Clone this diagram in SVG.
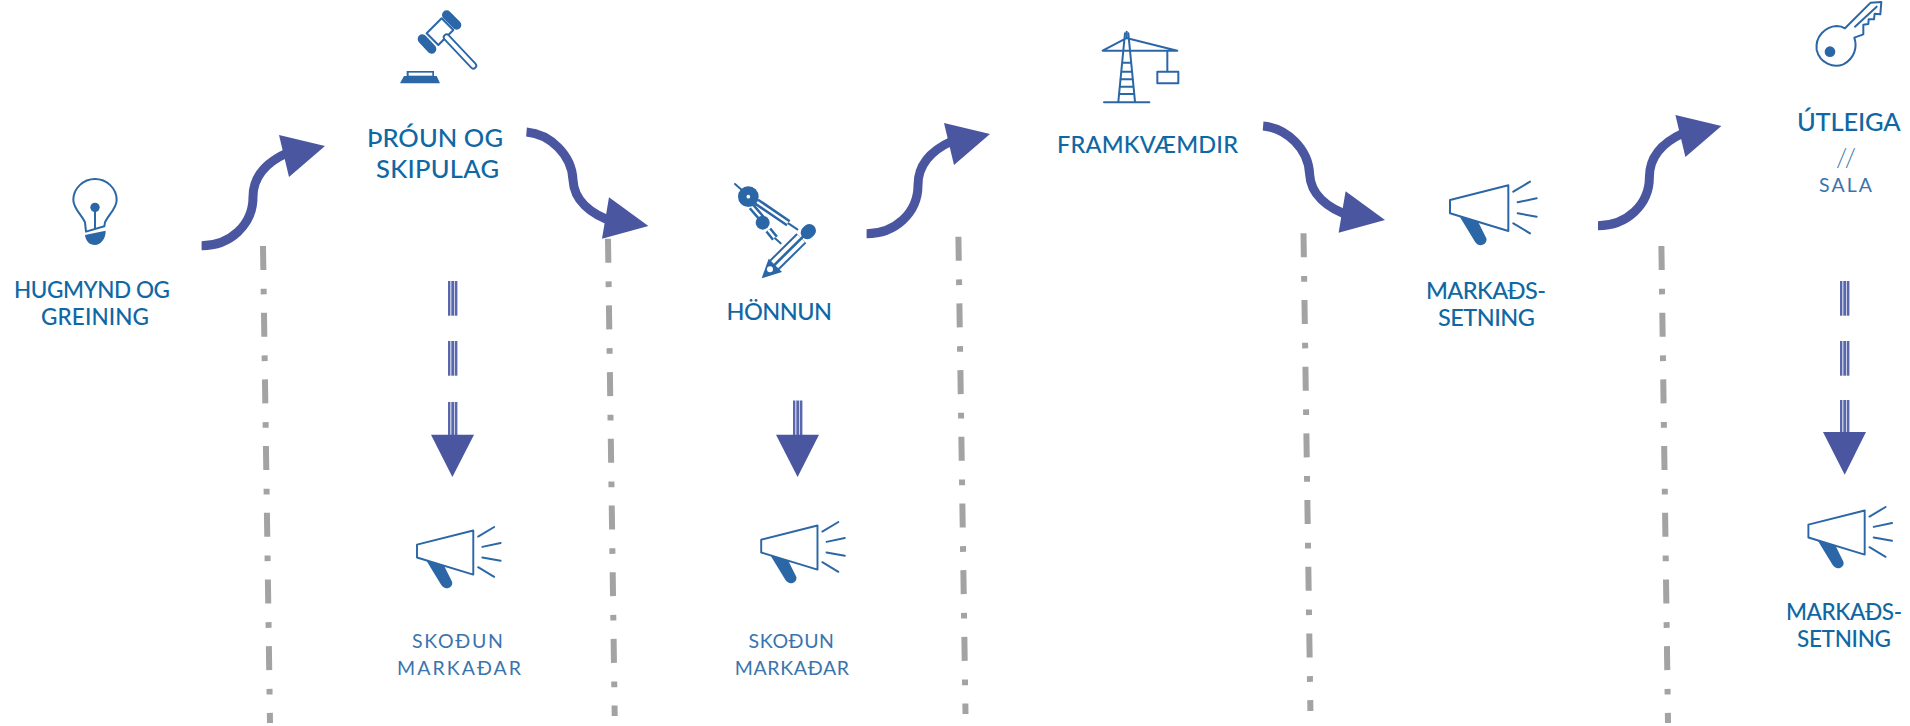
<svg xmlns="http://www.w3.org/2000/svg" xmlns:xlink="http://www.w3.org/1999/xlink" width="1910" height="726" viewBox="0 0 1910 726">
<style>
.t{font-family:Lato,"Noto Sans","Liberation Sans",sans-serif;font-weight:500;font-size:23.5px;fill:#0f68a3}
.s{font-size:22.5px}
.b{font-size:25.5px}
.l{font-family:Lato,"Open Sans","Liberation Sans",sans-serif;font-weight:400;font-size:19.5px;fill:#3a74ad}
.sl{font-size:26px;font-weight:300}
.ol{fill:none;stroke:#2b67a6;stroke-width:6;stroke-linecap:round;stroke-linejoin:round}
.fl{fill:#2b67a6}
.curve{fill:none;stroke:#4a569f;stroke-width:9}
.head{fill:#4a569f}
.div{fill:none;stroke:#a3a3a3;stroke-width:6;stroke-dasharray:24 18.7 5.7 18.3}
.tr{fill:#5b67ad}
</style>
<defs>
<g id="mega" transform="scale(.3333)">
<path class="ol" d="M60 90L235 46V183L60 130Z"/>
<path class="fl" d="M88 138L145 157L169 205C174 222 148 236 135 215Z"/>
<path class="ol" d="M250 65L300 35M263 97L320 85M263 130L320 140M250 160L300 190"/>
</g>
<g id="up"><path class="curve" d="M201.600 245.700C230 245.700 253 225 253 197C253 178 265 163 287 153"/><path class="head" d="M279 135L325 146L289 177Z"/></g>
<g id="down"><path class="curve" d="M526.500 132C550 134 572 155 573 180C574 200 590 214 614 222"/><path class="head" d="M609 197.300L648.400 226L602 238.700Z"/></g>
<g id="tri"><rect x="0" width="2.400" height="34.700" class="tr"/><rect x="3.300" width="3" height="34.700" class="tr"/><rect x="7" width="2.400" height="34.700" class="tr"/></g>
</defs>
<rect width="1910" height="726" fill="#fff"/>
<g id="connectors">
<use xlink:href="#up" href="#up"/>
<use href="#down"/>
<use href="#up" transform="translate(665,-12)"/>
<use href="#down" transform="translate(736.6,-6)"/>
<use href="#up" transform="translate(1396.4,-20)"/>
<use href="#tri" x="448" y="281"/><use href="#tri" x="448" y="341"/><use href="#tri" x="448" y="402"/>
<path class="head" d="M431 434.700H474L452.400 477Z"/>
<use href="#tri" x="793" y="400.500"/>
<path class="head" d="M776 434.700H819L797.600 477Z"/>
<use href="#tri" x="1840" y="281"/><use href="#tri" x="1840" y="341"/><use href="#tri" x="1840" y="400"/>
<path class="head" d="M1823 432H1866L1844.700 474.700Z"/>
</g>
<g id="dividers">
<path class="div" d="M263 246L270 723"/>
<path class="div" d="M608 238.700L614.700 716"/>
<path class="div" d="M958.400 236.700L965.500 714"/>
<path class="div" d="M1303.500 233.300L1310.400 711"/>
<path class="div" d="M1661.400 246L1668 723"/>
</g>
<g id="node-hugmynd">
<g transform="translate(50,165) scale(.3333)">
<path class="ol" d="M108 200L105 172C95 150 70 130 70 105C70 70 100 42 135 42C170 42 200 70 200 105C200 130 175 150 165 172L163 184Z"/>
<circle class="fl" cx="135" cy="127" r="14"/>
<path class="ol" d="M135 127V190"/>
<path class="fl" d="M105 210L167 197C168 222 150 240 135 240C118 240 107 228 105 210Z"/>
</g>
<text class="t s" x="14" y="298" textLength="156">HUGMYND OG</text>
<text class="t s" x="41" y="325" textLength="108">GREINING</text>
</g>
<g id="node-throun">
<g transform="translate(390,0) scale(.3333)">
<path class="ol" d="M155 55L110 100L145 135L190 90Z" fill="#fff"/>
<path d="M170 45L200 75M97 117L125 147" fill="none" stroke="#2b67a6" stroke-width="28" stroke-linecap="round"/>
<path d="M170 112L250 197" fill="none" stroke="#2b67a6" stroke-width="23" stroke-linecap="round"/>
<path d="M170 112L250 197" fill="none" stroke="#fff" stroke-width="12" stroke-linecap="round"/>
<path class="fl" d="M30 250H150L140 228H132V213H50V228H42Z"/>
<rect x="56" y="218" width="71" height="9" fill="#fff"/>
</g>
<text class="t b" x="367" y="146.700" textLength="136">ÞRÓUN OG</text>
<text class="t b" x="376" y="177.700" textLength="123">SKIPULAG</text>
</g>
<g id="node-honnun">
<g transform="translate(720,170) scale(.3333)">
<path class="ol" d="M45 42L68 62"/>
<path d="M110 95L205 160M95 110L125 145M145 180L165 205" fill="none" stroke="#2b67a6" stroke-width="22"/>
<path d="M110 95L205 160M95 110L125 145M145 180L165 205" fill="none" stroke="#fff" stroke-width="7"/>
<path class="ol" d="M205 160L232 178M165 205L182 220"/>
<circle class="fl" cx="85" cy="80" r="31"/><circle cx="85" cy="80" r="5.500" fill="#fff"/>
<circle class="fl" cx="128" cy="158" r="21"/>
<path d="M268 182L262 188" fill="none" stroke="#2b67a6" stroke-width="40" stroke-linecap="round"/>
<path d="M244 205L163 285" fill="none" stroke="#2b67a6" stroke-width="42"/>
<path d="M244 205L163 285" fill="none" stroke="#fff" stroke-width="30"/>
<path d="M250 199L150 298" fill="none" stroke="#2b67a6" stroke-width="8"/>
<path class="fl" d="M125 325L146 266L186 306Z"/>
<circle cx="150" cy="298" r="9" fill="#fff"/>
</g>
<text class="t" x="726.500" y="320" textLength="105.500">HÖNNUN</text>
</g>
<g id="node-framkvaemdir">
<g transform="translate(1090,20) scale(.3333)">
<path class="ol" d="M38 92H262M38 92L108 55M112 55L262 92M105 40L85 245M115 40L135 245M42 247H178M97 128H123M94 155H126M91 178H129M89 200H131M87 222H133M232 92V153"/>
<path class="ol" d="M110 35V55" stroke-width="8"/>
<rect class="ol" x="202" y="155" width="63" height="35"/>
</g>
<text class="t" x="1057" y="153" textLength="181">FRAMKVÆMDIR</text>
</g>
<g id="node-markadssetning">
<use href="#mega" transform="translate(1430,170)"/>
<text class="t" x="1426" y="299" textLength="120">MARKAÐS-</text>
<text class="t" x="1438" y="326" textLength="97">SETNING</text>
</g>
<g id="node-utleiga">
<g transform="translate(1800,0) scale(.3333)">
<path class="ol" d="M135 85L212 8L244 6L241 43L224 41L222 58L206 58L205 72L190 74L190 103L163 113C172 140 165 175 130 193C100 205 60 190 50 150C45 110 75 80 110 78C120 78 128 80 135 85Z"/>
<path class="ol" d="M165 80L230 20"/>
<circle class="fl" cx="90" cy="155" r="16"/>
</g>
<text class="t b" x="1797" y="130.700" textLength="103.600">ÚTLEIGA</text>
<text class="l sl" x="1836" y="167" textLength="20">//</text>
<text class="l" x="1819" y="192" textLength="53">SALA</text>
</g>
<g id="node-skodun-1">
<use href="#mega" transform="translate(397.700,515.700) scale(.965)"/>
<text class="l" x="412" y="648" textLength="91">SKOÐUN</text>
<text class="l" x="397" y="674.700" textLength="124">MARKAÐAR</text>
</g>
<g id="node-skodun-2">
<use href="#mega" transform="translate(741.900,510.700) scale(.965)"/>
<text class="l" x="748.600" y="648" textLength="85.400">SKOÐUN</text>
<text class="l" x="734.700" y="674.700" textLength="114.300">MARKAÐAR</text>
</g>
<g id="node-markadssetning-2">
<use href="#mega" transform="translate(1789.100,495.700) scale(.965)"/>
<text class="t s" x="1786" y="620" textLength="116">MARKAÐS-</text>
<text class="t s" x="1797" y="647" textLength="94">SETNING</text>
</g>
</svg>
